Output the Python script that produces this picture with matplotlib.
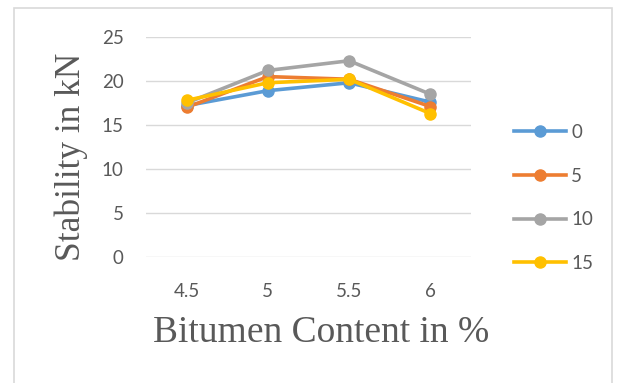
import matplotlib
matplotlib.use("Agg")
import matplotlib.pyplot as plt
from matplotlib.patches import Rectangle
from matplotlib.lines import Line2D

# Bitumen content (%) on the category axis
categories = ["4.5", "5", "5.5", "6"]

# Marshall stability (kN) for each additive percentage
series_names = ["0", "5", "10", "15"]
stab_0 = [17.2, 18.9, 19.8, 17.6]
stab_5 = [17.0, 20.5, 20.2, 17.1]
stab_10 = [17.5, 21.2, 22.3, 18.5]
stab_15 = [17.8, 19.8, 20.2, 16.3]
y_ticks = [0, 5, 10, 15, 20, 25]

colors = ["#5b9bd5", "#ed7d31", "#a5a5a5", "#ffc000"]
all_series = [stab_0, stab_5, stab_10, stab_15]

W, H = 621, 383
fig = plt.figure(figsize=(W / 100, H / 100), dpi=100)
fig.patch.set_facecolor("white")

# outer chart frame
fig.add_artist(Rectangle((14 / W, -0.05), (612 - 14) / W, 1.05 - 8 / H,
                         transform=fig.transFigure, fill=False,
                         edgecolor="#d9d9d9", linewidth=1.2))

ax = fig.add_axes([146 / W, 1 - 257 / H, (471 - 146) / W, (257 - 37) / H])
x = list(range(len(categories)))

for vals, c in zip(all_series, colors):
    ax.plot(x, vals, color=c, linewidth=2.6, marker="o", markersize=8,
            markerfacecolor=c, markeredgecolor=c, solid_capstyle="round",
            zorder=3)

ax.set_xlim(-0.5, len(categories) - 0.5)
ax.set_ylim(0, 25)
ax.set_yticks(y_ticks)
ax.set_xticks(x)
ax.set_xticklabels(categories)
ax.grid(axis="y", color="#d9d9d9", linewidth=1.0)
ax.set_axisbelow(True)
for s in ax.spines.values():
    s.set_visible(False)
ax.tick_params(length=0, colors="#595959", labelsize=13.5)
ax.tick_params(axis="y", pad=16)
ax.tick_params(axis="x", pad=19)
for lab in ax.get_xticklabels() + ax.get_yticklabels():
    lab.set_family("Lato")

fig.text(71 / W, 1 - 157 / H, "Stability in kN", rotation=90,
         ha="center", va="center", family="Liberation Serif",
         fontsize=25.5, color="#595959")
fig.text(321 / W, 1 - 333 / H, "Bitumen Content in %",
         ha="center", va="center", family="Liberation Serif",
         fontsize=27, color="#595959")

handles = [Line2D([], [], color=c, linewidth=2.6, marker="o", markersize=8)
           for c in colors]
leg = fig.legend(handles, series_names, loc="upper left",
                 bbox_to_anchor=(497 / W, 1 - 107 / H),
                 frameon=False, handlelength=2.8, handletextpad=0.25,
                 labelspacing=1.42, prop={"family": "Lato", "size": 13.5})
for t in leg.get_texts():
    t.set_color("#595959")

fig.savefig("out.png", dpi=100, facecolor="white")
